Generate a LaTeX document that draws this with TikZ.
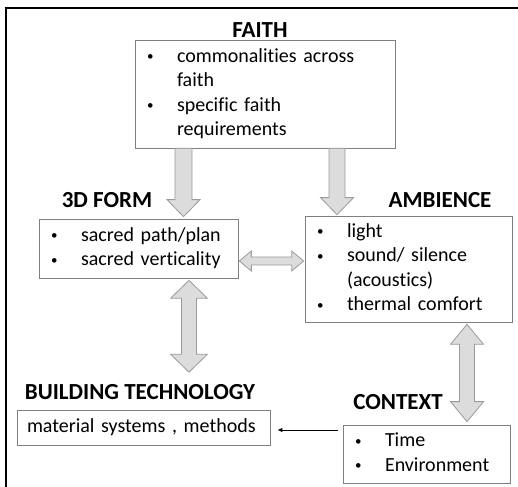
\documentclass[tikz,border=0pt]{standalone}
\usepackage{fontspec}
\setmainfont{Carlito}[Ligatures=CommonOff]
\usetikzlibrary{calc,arrows.meta}
\definecolor{boxline}{HTML}{808080}
\definecolor{arrfill}{HTML}{DCDCDC}
\definecolor{arrline}{HTML}{9A9A9A}
\tikzset{
  box/.style={draw=boxline, line width=0.7pt, inner ysep=0pt, inner xsep=9pt, align=left,
              font=\fontsize{20}{24.5}\selectfont},
  ttl/.style={inner sep=0pt, font=\fontsize{23}{26}\selectfont\bfseries},
  blk/.style={draw=arrline, fill=arrfill, line width=0.8pt, line join=miter},
  link/.style={-{Latex[length=5pt,width=4.5pt]}, line width=0.8pt, black}
}
\newcommand\bul{\hspace*{3pt}{\fontsize{13}{13}\selectfont\raisebox{1.6pt}{•}}}
% single block arrow pointing down: #1 top (shaft start), #2 tip
\newcommand\vsingle[5]{%
  \draw[blk] let \p1=(#1), \p2=(#2) in
   (\x1-#3,\y1) -- (\x1+#3,\y1) -- (\x1+#3,\y2+#5) -- (\x1+#4,\y2+#5) -- (\x2,\y2)
   -- (\x1-#4,\y2+#5) -- (\x1-#3,\y2+#5) -- cycle;}
% vertical double block arrow: #1 top tip, #2 bottom tip
\newcommand\vdouble[5]{%
  \draw[blk] let \p1=(#1), \p2=(#2) in
   (\x1,\y1) -- (\x1+#4,\y1-#5) -- (\x1+#3,\y1-#5) -- (\x1+#3,\y2+#5) -- (\x1+#4,\y2+#5)
   -- (\x2,\y2) -- (\x1-#4,\y2+#5) -- (\x1-#3,\y2+#5) -- (\x1-#3,\y1-#5) -- (\x1-#4,\y1-#5) -- cycle;}
% horizontal double block arrow: #1 left tip, #2 right tip
\newcommand\hdouble[5]{%
  \draw[blk] let \p1=(#1), \p2=(#2) in
   (\x1,\y1) -- (\x1+#5,\y1+#4) -- (\x1+#5,\y1+#3) -- (\x2-#5,\y1+#3) -- (\x2-#5,\y1+#4)
   -- (\x2,\y2) -- (\x2-#5,\y1-#4) -- (\x2-#5,\y1-#3) -- (\x1+#5,\y1-#3) -- (\x1+#5,\y1-#4) -- cycle;}
\begin{document}
\begin{tikzpicture}[x=1pt,y=1pt]
\useasboundingbox (0,0) rectangle (518,486);
% outer frame
\draw[line width=2.4pt] (6,-2) -- (6,478) -- (520,478);

% titles
\node[ttl] (tfaith) at (260,456) {FAITH};
\node[ttl] (t3d) at (107,286) {3D FORM};
\node[ttl] (tamb) at (440,286) {AMBIENCE};
\node[ttl] (tbt) at (140,94) {BUILDING TECHNOLOGY};
\node[ttl] (tctx) at (398,84) {CONTEXT};

% boxes
\node[box, text width=242pt, minimum height=108pt] (faith) at (265,392)
  {\begin{tabular}{@{}p{33pt}@{}l@{}}\bul&commonalities across\\&faith\\\bul&specific faith\\&requirements\end{tabular}};
\node[box, text width=181pt, minimum height=59pt] (d3) at (138.5,237.5)
  {\begin{tabular}{@{}p{33pt}@{}l@{}}\bul&sacred path/plan\\\bul&sacred verticality\end{tabular}};
\node[box, text width=189pt, minimum height=106pt] (amb) at (408.5,217)
  {\begin{tabular}{@{}p{33pt}@{}l@{}}\bul&light\\\bul&sound/ silence\\&(acoustics)\\\bul&thermal comfort\end{tabular}};
\node[box, inner xsep=10pt, text width=233pt, minimum height=35pt] (bt) at (143.5,58.5)
  {\begin{tabular}{@{}l@{}}material systems , methods\end{tabular}};
\node[box, text width=149pt, minimum height=58pt] (ctx) at (426.5,32)
  {\begin{tabular}{@{}p{33pt}@{}l@{}}\bul&Time\\\bul&Environment\end{tabular}};

% block arrows
\vsingle{faith.south -| 183.5,0}{$(d3.north -| 183.5,0)+(0,2)$}{8.5pt}{16.5pt}{17pt}
\vsingle{faith.south -| 337,0}{$(amb.north -| 337,0)+(0,1)$}{8pt}{16.5pt}{17pt}
\hdouble{$(d3.east |- 0,225)+(1,0)$}{$(amb.west |- 0,225)+(-1,0)$}{4pt}{10pt}{12pt}
\vdouble{$(d3.south -| 189,0)+(0,-2)$}{$(tbt.north -| 189,0)+(0,12)$}{7.5pt}{18.5pt}{18pt}
\vdouble{$(amb.south -| 467,0)+(0,-2)$}{$(ctx.north -| 467,0)+(0,3)$}{7.5pt}{16.5pt}{20pt}

% thin arrow
\draw[link] ($(ctx.west |- 0,56)+(-5,0)$) -- ($(bt.east |- 0,56)+(7,0)$);
\end{tikzpicture}
\end{document}
